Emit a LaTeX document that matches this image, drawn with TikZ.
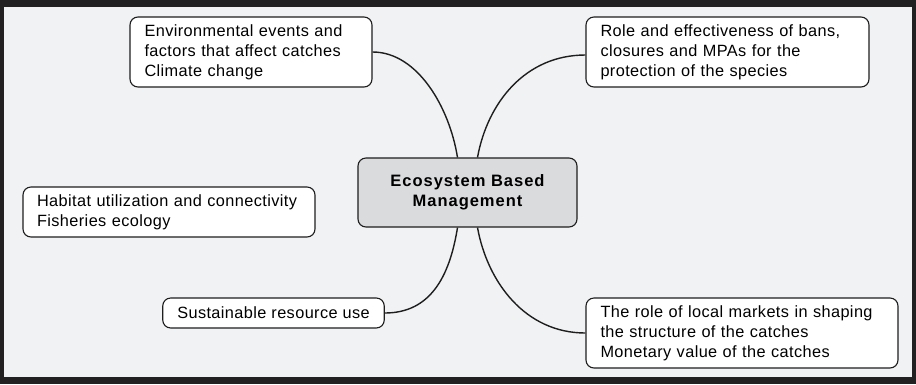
\documentclass[tikz,border=0pt]{standalone}
\usepackage{fontspec}
\setmainfont{Liberation Sans}
\newfontfamily\leaffont{Liberation Sans}[LetterSpace=2.5]
\newfontfamily\hubfont{Liberation Sans}[LetterSpace=6]
\usetikzlibrary{calc,positioning,shapes}

\definecolor{frameGray}{RGB}{35,32,33}
\definecolor{paperGray}{RGB}{241,242,244}
\definecolor{hubGray}{RGB}{218,219,221}
\definecolor{lineGray}{RGB}{30,30,30}

\begin{document}
\begin{tikzpicture}[x=1pt,y=-1pt]
  \useasboundingbox (0,0) rectangle (916,384);
  \tikzset{
    hub/.style={rectangle,draw=lineGray,fill=hubGray,rounded corners=8pt,line width=1.1pt,
      minimum width=219pt,minimum height=69pt,align=center,
      font=\hubfont\bfseries\fontsize{16.5}{19.5}\selectfont},
    leaf/.style={rectangle,draw=lineGray,fill=white,rounded corners=8pt,line width=1.1pt,
      inner xsep=14.5pt,inner ysep=0pt,align=left,
      font=\leaffont\fontsize{16.3}{20}\selectfont},
    % edge styles
    branch/.style={draw=lineGray,line width=1.4pt},
    %
    frameBox/.style={fill=frameGray},
    paperBox/.style={fill=paperGray}
  }

  %% Frame
  \fill [frameBox] (0,0) rectangle (916,384);
  \fill [paperBox] (4,7) rectangle (912,377);

  %% Hub
  \node [hub] (ebm) at (467.5,192.5) {Ecosystem Based\\Management};

  %% Leaves
  \node [leaf, text width=213pt, minimum height=70pt] (env) at (251,52)
    {Environmental events and\\factors that affect catches\\Climate change};
  \node [leaf, text width=254pt, minimum height=70pt] (bans) at (727.5,52)
    {Role and effectiveness of bans,\\closures and MPAs for the\\protection of the species};
  \node [leaf, text width=264pt, inner xsep=14pt, minimum height=50pt] (habitat) at (169,212)
    {Habitat utilization and connectivity\\Fisheries ecology};
  \node [leaf, minimum width=219pt, minimum height=30pt] (sustain) at (273.5,313)
    {Sustainable resource use};
  \node [leaf, text width=283pt, minimum height=70pt] (markets) at (742,333)
    {The role of local markets in shaping\\the structure of the catches\\Monetary value of the catches};

  %% Branches
  \draw [branch] (env.east) .. controls +(45,0) and +(-8,-50) .. ([xshift=-10pt]ebm.north);
  \draw [branch] ([xshift=10pt]ebm.north) .. controls +(10,-55) and +(-60,0) .. ([yshift=-3pt]bans.west);
  \draw [branch] ([xshift=-10pt]ebm.south) .. controls +(-8,50) and +(45,0) .. (sustain.east);
  \draw [branch] ([xshift=10pt]ebm.south) .. controls +(10,55) and +(-60,0) .. (markets.west);

\end{tikzpicture}
\end{document}
